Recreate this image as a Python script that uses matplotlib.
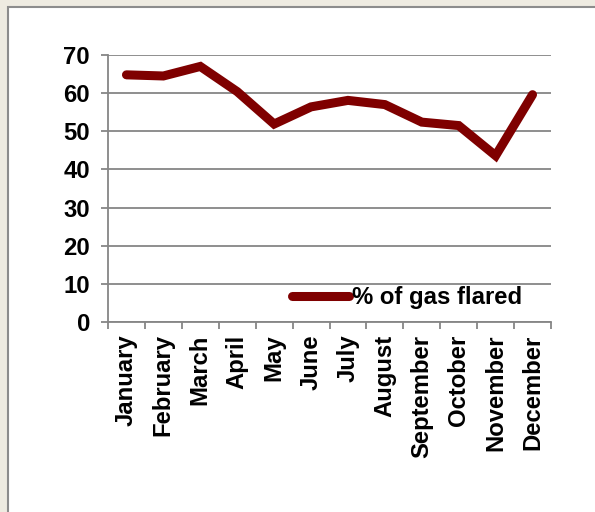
import numpy as np
import matplotlib.pyplot as plt
from matplotlib.patches import Rectangle

months = ["January", "February", "March", "April", "May", "June", "July",
          "August", "September", "October", "November", "December"]
gas_flared = [64.8, 64.5, 67.0, 60.4, 51.9, 56.4, 58.1, 57.0, 52.4, 51.5, 43.6, 59.6]
y_ticks = [0, 10, 20, 30, 40, 50, 60, 70]

plt.rcParams["font.family"] = ["Liberation Sans", "DejaVu Sans"]
plt.rcParams["font.weight"] = "bold"
FS = 17.2

fig = plt.figure(figsize=(5.95, 5.12), dpi=100)
fig.patch.set_facecolor("#EEEBE1")
# white chart panel with a grey rim, cut off at the right and bottom
fig.patches.append(Rectangle((8 / 595, -0.02), 1.05, 1 - 7 / 512 + 0.02,
                             transform=fig.transFigure, facecolor="white",
                             edgecolor="#8C8C8C", linewidth=1.5, zorder=-1))

ax = fig.add_axes([108 / 595, 1 - 322 / 512, 443 / 595, 267 / 512])
ax.set_facecolor("white")

x = np.arange(len(months))
ax.plot(x, gas_flared, color="#7F0000", linewidth=6.5,
        solid_capstyle="round", solid_joinstyle="miter", label="% of gas flared")

ax.set_xlim(-0.5, len(months) - 0.5)
ax.set_ylim(0, 70)
ax.set_yticks(y_ticks)
ax.set_yticklabels([str(v) for v in y_ticks], fontsize=FS, fontweight="bold")
ax.tick_params(axis="y", length=5, width=1.3, color="#868686", pad=8)

# category boundaries carry the tick marks, centres carry the labels
ax.set_xticks(np.arange(-0.5, len(months)), labels=[""] * (len(months) + 1))
ax.set_xticks(x, labels=months, minor=True)
ax.tick_params(axis="x", which="major", length=5, width=1.3, color="#868686")
ax.tick_params(axis="x", which="minor", length=0, pad=9)
for lbl in ax.get_xticklabels(minor=True):
    lbl.set_rotation(90)
    lbl.set_fontsize(FS)
    lbl.set_fontweight("bold")

ax.grid(axis="y", color="#868686", linewidth=1.3)
ax.set_axisbelow(True)
for side in ["top", "right"]:
    ax.spines[side].set_visible(False)
for side in ["left", "bottom"]:
    ax.spines[side].set_color("#868686")
    ax.spines[side].set_linewidth(1.3)

ax.legend(loc="center left", bbox_to_anchor=(0.415, 0.09), frameon=False,
          borderaxespad=0, borderpad=0, handlelength=2.4, handletextpad=0.1,
          prop={"size": FS, "weight": "bold"})

fig.savefig("out.png", dpi=100, facecolor=fig.get_facecolor())
